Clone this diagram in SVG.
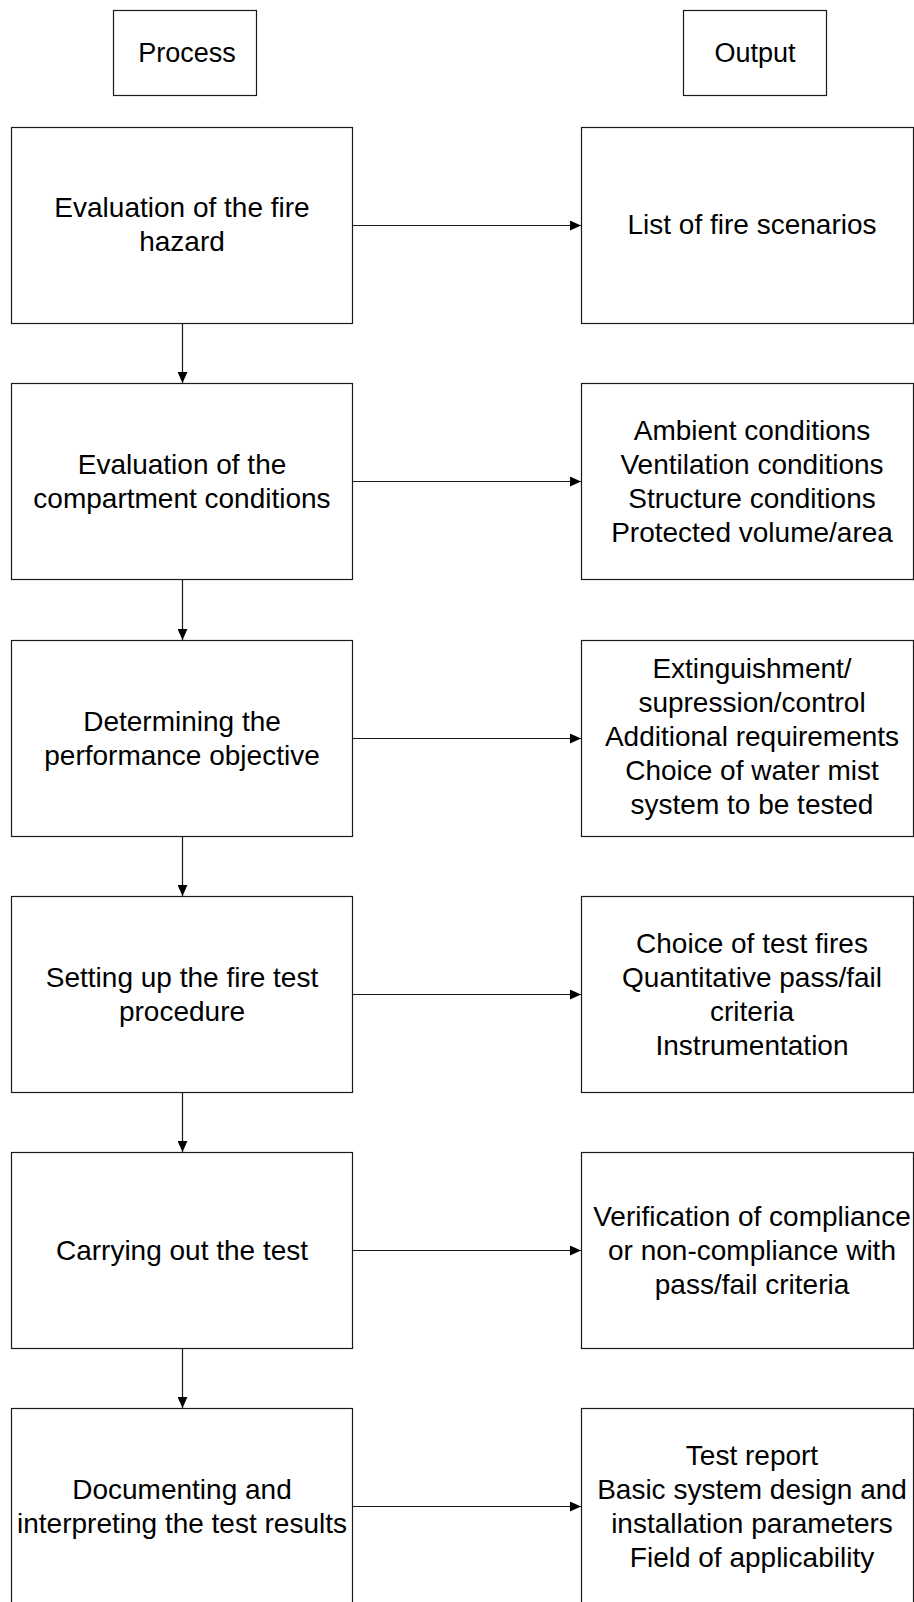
<svg xmlns="http://www.w3.org/2000/svg" width="914" height="1602" viewBox="0 0 914 1602">
<style>
  .box{fill:#fff;stroke:#1a1a1a;stroke-width:1.2}
  .t{font-family:"Liberation Sans",Arial,sans-serif;font-size:28px;fill:#000;text-anchor:middle}
  .h{font-size:27px}
  .c{stroke:#1a1a1a;stroke-width:1.2;fill:none}
</style>
<defs>
  <marker id="ah" viewBox="0 0 11 10" refX="11" refY="5" markerWidth="11" markerHeight="10" markerUnits="userSpaceOnUse" orient="auto">
    <path d="M0,0 L11,5 L0,10 Z" fill="#000"/>
  </marker>
</defs>
<rect width="914" height="1602" fill="#fff"/>

<g id="hdr-process"><rect class="box" x="113.5" y="10.5" width="143" height="85"/><text class="t h" x="187" y="62">Process</text></g>
<g id="hdr-output"><rect class="box" x="683.5" y="10.5" width="143" height="85"/><text class="t h" x="755" y="62">Output</text></g>

<g id="p1"><rect class="box" x="11.5" y="127.5" width="341" height="196"/>
<text class="t" x="182" y="217">Evaluation of the fire</text><text class="t" x="182" y="251">hazard</text></g>
<g id="o1"><rect class="box" x="581.5" y="127.5" width="332" height="196"/>
<text class="t" x="752" y="234">List of fire scenarios</text></g>

<g id="p2"><rect class="box" x="11.5" y="383.5" width="341" height="196"/>
<text class="t" x="182" y="473.5">Evaluation of the</text><text class="t" x="182" y="507.5">compartment conditions</text></g>
<g id="o2"><rect class="box" x="581.5" y="383.5" width="332" height="196"/>
<text class="t" x="752" y="439.5">Ambient conditions</text><text class="t" x="752" y="473.5">Ventilation conditions</text><text class="t" x="752" y="507.5">Structure conditions</text><text class="t" x="752" y="541.5">Protected volume/area</text></g>

<g id="p3"><rect class="box" x="11.5" y="640.5" width="341" height="196"/>
<text class="t" x="182" y="730.5">Determining the</text><text class="t" x="182" y="764.5">performance objective</text></g>
<g id="o3"><rect class="box" x="581.5" y="640.5" width="332" height="196"/>
<text class="t" x="752" y="677.5">Extinguishment/</text><text class="t" x="752" y="711.5">supression/control</text><text class="t" x="752" y="745.5">Additional requirements</text><text class="t" x="752" y="779.5">Choice of water mist</text><text class="t" x="752" y="813.5">system to be tested</text></g>

<g id="p4"><rect class="box" x="11.5" y="896.5" width="341" height="196"/>
<text class="t" x="182" y="986.5">Setting up the fire test</text><text class="t" x="182" y="1020.5">procedure</text></g>
<g id="o4"><rect class="box" x="581.5" y="896.5" width="332" height="196"/>
<text class="t" x="752" y="952.5">Choice of test fires</text><text class="t" x="752" y="986.5">Quantitative pass/fail</text><text class="t" x="752" y="1020.5">criteria</text><text class="t" x="752" y="1054.5">Instrumentation</text></g>

<g id="p5"><rect class="box" x="11.5" y="1152.5" width="341" height="196"/>
<text class="t" x="182" y="1259.5">Carrying out the test</text></g>
<g id="o5"><rect class="box" x="581.5" y="1152.5" width="332" height="196"/>
<text class="t" x="752" y="1225.5">Verification of compliance</text><text class="t" x="752" y="1259.5">or non-compliance with</text><text class="t" x="752" y="1293.5">pass/fail criteria</text></g>

<g id="p6"><rect class="box" x="11.5" y="1408.5" width="341" height="196"/>
<text class="t" x="182" y="1498.5">Documenting and</text><text class="t" x="182" y="1532.5">interpreting the test results</text></g>
<g id="o6"><rect class="box" x="581.5" y="1408.5" width="332" height="196"/>
<text class="t" x="752" y="1464.5">Test report</text><text class="t" x="752" y="1498.5">Basic system design and</text><text class="t" x="752" y="1532.5">installation parameters</text><text class="t" x="752" y="1566.5">Field of applicability</text></g>

<g id="connectors">
  <line class="c" x1="352.5" y1="225.5" x2="581" y2="225.5" marker-end="url(#ah)"/>
  <line class="c" x1="352.5" y1="481.5" x2="581" y2="481.5" marker-end="url(#ah)"/>
  <line class="c" x1="352.5" y1="738.5" x2="581" y2="738.5" marker-end="url(#ah)"/>
  <line class="c" x1="352.5" y1="994.5" x2="581" y2="994.5" marker-end="url(#ah)"/>
  <line class="c" x1="352.5" y1="1250.5" x2="581" y2="1250.5" marker-end="url(#ah)"/>
  <line class="c" x1="352.5" y1="1506.5" x2="581" y2="1506.5" marker-end="url(#ah)"/>
  <line class="c" x1="182.5" y1="323.5" x2="182.5" y2="383" marker-end="url(#ah)"/>
  <line class="c" x1="182.5" y1="579.5" x2="182.5" y2="640" marker-end="url(#ah)"/>
  <line class="c" x1="182.5" y1="836.5" x2="182.5" y2="896" marker-end="url(#ah)"/>
  <line class="c" x1="182.5" y1="1092.5" x2="182.5" y2="1152" marker-end="url(#ah)"/>
  <line class="c" x1="182.5" y1="1348.5" x2="182.5" y2="1408" marker-end="url(#ah)"/>
</g>
</svg>
